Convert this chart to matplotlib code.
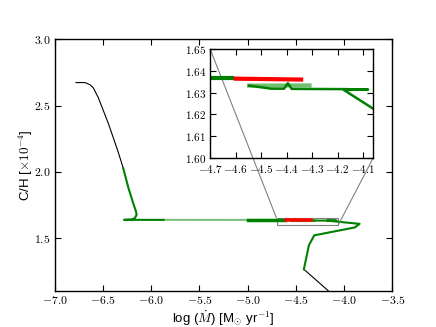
import matplotlib
matplotlib.use('Agg')
import matplotlib.pyplot as plt
from matplotlib.ticker import FuncFormatter
from mpl_toolkits.axes_grid1.inset_locator import mark_inset

# early part of the track (black, before the green phase)
black_start_x = [-6.777, -6.684, -6.633, -6.598, -6.547, -6.495, -6.443, -6.391, -6.340, -6.288]
black_start_y = [2.673, 2.673, 2.657, 2.633, 2.560, 2.463, 2.366, 2.257, 2.148, 2.027]

# late part of the track (black, after the green phase)
black_end_x = [-4.417, -4.166, -4.09]
black_end_y = [1.264, 1.103, 1.05]

# green phase: descent, hook and first horizontal run
green_x = [-6.288, -6.236, -6.184, -6.156, -6.149, -6.167, -6.195, -6.28, -5.87]
green_y = [2.027, 1.882, 1.761, 1.700, 1.676, 1.652, 1.640, 1.637, 1.637]

# faint (single pass) runs
faint_x = [-5.87, -4.60]
faint_y = [1.637, 1.6366]
faint2_x = [-4.547, -4.31]
faint2_y = [1.6332, 1.6333]

# thick (many passes) run
thick_x = [-5.0, -4.616]
thick_y = [1.6366, 1.6366]

# red segment
red_x = [-4.60, -4.343]
red_y = [1.6364, 1.6360]

# green tail down to the end
tail_x = [-4.547, -4.46, -4.41, -4.395, -4.38, -4.175, -4.08, -4.175, -4.06,
          -3.84, -3.889, -4.31, -4.365, -4.417]
tail_y = [1.6332, 1.6318, 1.6318, 1.6343, 1.6317, 1.6316, 1.6314, 1.6312, 1.6226,
          1.607, 1.580, 1.52, 1.445, 1.264]

main_xticks = [-7.0, -6.5, -6.0, -5.5, -5.0, -4.5, -4.0, -3.5]
main_yticks = [1.5, 2.0, 2.5, 3.0]
ins_xticks = [-4.7, -4.6, -4.5, -4.4, -4.3, -4.2, -4.1]
ins_yticks = [1.60, 1.61, 1.62, 1.63, 1.64, 1.65]

plt.rcParams['mathtext.fontset'] = 'cm'
plt.rcParams['font.family'] = ['Liberation Sans', 'DejaVu Sans']
plt.rcParams['xtick.direction'] = 'in'
plt.rcParams['ytick.direction'] = 'in'
plt.rcParams['xtick.top'] = True
plt.rcParams['ytick.right'] = True
plt.rcParams['xtick.major.size'] = 4
plt.rcParams['ytick.major.size'] = 4
plt.rcParams['xtick.major.pad'] = 3
plt.rcParams['ytick.major.pad'] = 3
plt.rcParams['axes.linewidth'] = 1.0


def draw_tracks(ax, w=1.0):
    ax.plot(black_start_x, black_start_y, color='k', lw=0.8)
    ax.plot(black_end_x, black_end_y, color='k', lw=0.8)
    ax.plot(green_x, green_y, color='g', lw=1.5 * w)
    ax.plot(faint_x, faint_y, color='g', lw=1.5 * w, alpha=0.5)
    ax.plot(thick_x, thick_y, color='g', lw=2.5 * w)
    ax.plot(faint2_x, faint2_y, color='#6fbf6f', lw=2.5 * w)
    ax.plot(tail_x, tail_y, color='g', lw=1.5 * w)
    ax.plot(red_x, red_y, color='r', lw=2.5 * w)


fmt1 = FuncFormatter(lambda v, p: '$%.1f$' % v)
fmt2 = FuncFormatter(lambda v, p: '$%.2f$' % v)

fig = plt.figure(figsize=(4.36, 3.27), dpi=100)
ax = fig.add_subplot(111)
draw_tracks(ax)
ax.set_xlim(-7.0, -3.5)
ax.set_ylim(1.1, 3.0)
ax.set_xticks(main_xticks)
ax.set_yticks(main_yticks)
ax.xaxis.set_major_formatter(fmt1)
ax.yaxis.set_major_formatter(fmt1)
ax.tick_params(labelsize=8.5)
ax.set_xlabel(r'log ($\dot{M}$) [M$_{\odot}$ yr$^{-1}$]', fontsize=9.5, labelpad=1)
ax.set_ylabel(r'C/H [$\times 10^{-4}$]', fontsize=9.5, labelpad=-1)

axins = fig.add_axes([0.482, 0.517, 0.374, 0.333])
draw_tracks(axins, w=1.2)
axins.set_xlim(-4.7, -4.06)
axins.set_ylim(1.60, 1.65)
axins.set_xticks(ins_xticks)
axins.set_yticks(ins_yticks)
axins.xaxis.set_major_formatter(fmt1)
axins.yaxis.set_major_formatter(fmt2)
axins.tick_params(labelsize=8)
axins.tick_params(axis='x', pad=3.5)

mark_inset(ax, axins, loc1=2, loc2=4, fc='none', ec='0.5', lw=0.8)

fig.savefig('out.png', dpi=100)
